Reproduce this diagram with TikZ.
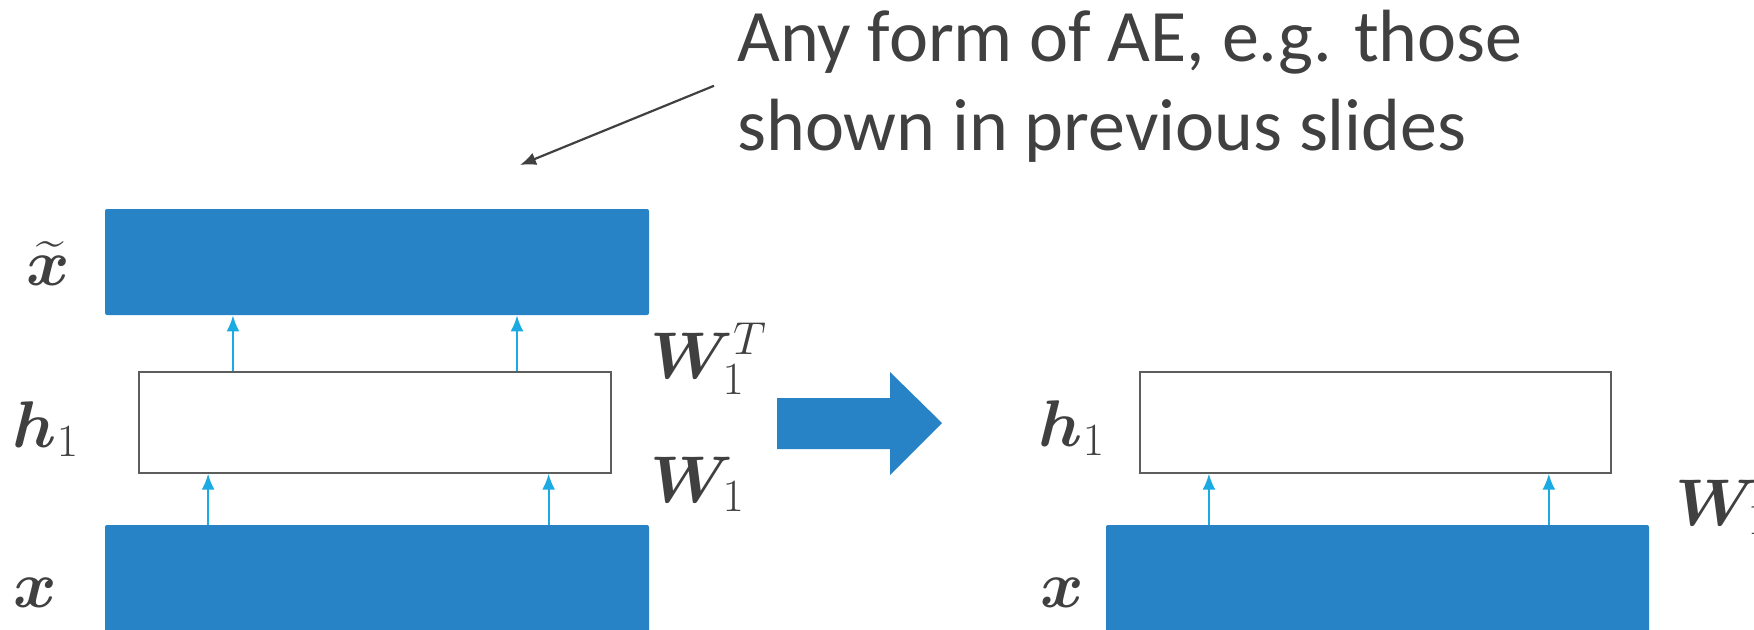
\RequirePackage{fix-cm}
\documentclass[tikz,border=0pt]{standalone}
\usepackage{amsmath}
\usepackage{bm}
\usepackage{fontspec}
\newfontfamily\slidefont{Carlito}
\usetikzlibrary{arrows.meta, calc}
\definecolor{aeblue}{RGB}{39,131,198}
\definecolor{linkblue}{RGB}{28,170,226}
\definecolor{ink}{RGB}{64,64,64}

\begin{document}
\begin{tikzpicture}[x=0.5pt, y=-0.5pt,
    layer/.style={fill=aeblue, draw=none, rounded corners=1pt, inner sep=0pt},
    hidden/.style={draw=ink!85, line width=0.7pt, fill=white, inner sep=0pt,
      minimum width=236pt, minimum height=50.5pt},
    link/.style={draw=linkblue, line width=1pt, -{Latex[length=8pt, width=6.5pt]}},
    pointer/.style={draw=ink, line width=1.1pt, -{Latex[length=8pt, width=6.5pt]}},
    lbl/.style={text=ink, inner sep=0pt, font=\fontsize{33}{38}\selectfont}]
  \useasboundingbox (0,0) rectangle (1754,629);
  \clip (0,0) rectangle (1754,629);
  % left: the autoencoder
  \node[layer, minimum width=272pt, minimum height=53pt] (xt) at (377,262) {};
  \node[hidden] (hL) at (375,422.5) {};
  \node[layer, minimum width=272pt, minimum height=62.5pt] (xL) at (377,587.5) {};
  \foreach \f in {0.2,0.8}
    \draw[link] ($(hL.north west)!\f!(hL.north east)$) coordinate (a) -- (a |- xt.south);
  \foreach \f in {0.19,0.815}
    \draw[link] ($(xL.north west)!\f!(xL.north east)$) coordinate (a) -- (a |- hL.south);
  \node[lbl, anchor=base] (lxt) at (48,285) {$\widetilde{\bm{x}}$};
  \node[lbl, anchor=base] (lhL) at (46,447) {$\bm{h}_1$};
  \node[lbl, anchor=base] (lxL) at (35,607) {$\bm{x}$};
  \node[lbl, anchor=base west] (lwT) at (650,378) {$\bm{W}_1^T$};
  \node[lbl, anchor=base west] (lwL) at (650,502) {$\bm{W}_1$};
  % the big arrow
  \fill[aeblue] (777,398) -- (890,398) -- (890,372) -- (942,423)
    -- (890,475) -- (890,449) -- (777,449) -- cycle;
  % right: keep the encoder
  \node[hidden, minimum width=235.5pt] (hR) at (1375.5,422.5) {};
  \node[layer, minimum width=271.5pt, minimum height=62.5pt] (xR) at (1377.5,587.5) {};
  \foreach \f in {0.19,0.815}
    \draw[link] ($(xR.north west)!\f!(xR.north east)$) coordinate (a) -- (a |- hR.south);
  \node[lbl, anchor=base] (lhR) at (1072,446) {$\bm{h}_1$};
  \node[lbl, anchor=base] (lxR) at (1062,607) {$\bm{x}$};
  \node[lbl, anchor=base west] (lwR) at (1675,525) {$\bm{W}_1$};
  % note
  \node[anchor=base west, align=left, text=ink, inner sep=0pt,
    font=\slidefont\fontsize{37}{44.5}\selectfont] (note) at (737,150)
    {Any form of AE, e.g. those\\shown in previous slides};
  \coordinate (aeTip) at (520,165);
  \draw[pointer] ([xshift=-11.5pt]note.west) -- (aeTip);
\end{tikzpicture}
\end{document}
